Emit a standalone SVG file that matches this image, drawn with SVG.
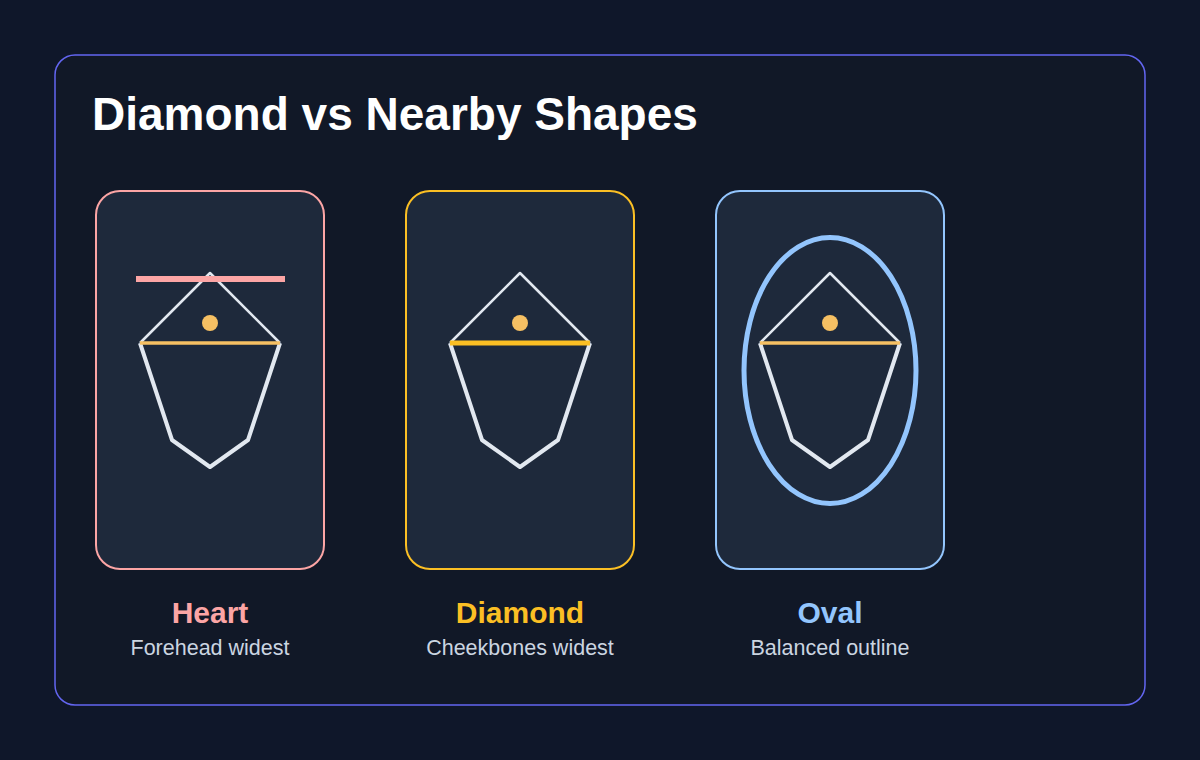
<svg xmlns="http://www.w3.org/2000/svg" width="1200" height="760" viewBox="0 0 1200 760">
<style>
.card{fill:#1e293b;stroke-width:2}
.up{fill:none;stroke:#e2e8f0;stroke-width:2.5;stroke-linejoin:round}
.low{fill:none;stroke:#e2e8f0;stroke-width:4;stroke-linejoin:round}
.cheek{stroke:#f6c063;stroke-width:3.5}
.dot{fill:#f6c063}
.lbl{font-family:"Liberation Sans",Arial,sans-serif;font-weight:bold;font-size:30px;text-anchor:middle}
.sub{font-family:"Liberation Sans",Arial,sans-serif;font-size:21.5px;fill:#cbd5e1;text-anchor:middle}
</style>
<defs>
<g id="face">
<polyline class="up" points="-70,70 0,0 70,70"/>
<polyline class="low" points="-70,70 -38,167 0,194 38,167 70,70"/>
<circle class="dot" cx="0" cy="50" r="8"/>
</g>
</defs>
<rect width="1200" height="760" fill="#0f172a"/>
<rect x="55" y="55" width="1090" height="650" rx="20" fill="#111827" stroke="#6366f1" stroke-width="1.5"/>
<text x="92" y="130" font-family="Liberation Sans,Arial,sans-serif" font-weight="bold" font-size="46" fill="#ffffff">Diamond vs Nearby Shapes</text>
<g id="heart">
<rect class="card" x="96" y="191" width="228" height="378" rx="24" stroke="#fca5a5"/>
<use href="#face" x="210" y="273"/>
<line class="cheek" x1="140" y1="343" x2="280" y2="343"/>
<line x1="136" y1="279" x2="285" y2="279" stroke="#fca5a5" stroke-width="6"/>
<text class="lbl" x="210" y="623" fill="#fca5a5">Heart</text>
<text class="sub" x="210" y="655">Forehead widest</text>
</g>
<g id="diamond">
<rect class="card" x="406" y="191" width="228" height="378" rx="24" stroke="#fbbf24"/>
<use href="#face" x="520" y="273"/>
<line x1="450" y1="343" x2="590" y2="343" stroke="#fbbf24" stroke-width="5"/>
<text class="lbl" x="520" y="623" fill="#fbbf24">Diamond</text>
<text class="sub" x="520" y="655">Cheekbones widest</text>
</g>
<g id="oval">
<rect class="card" x="716" y="191" width="228" height="378" rx="24" stroke="#93c5fd"/>
<ellipse cx="830" cy="370.5" rx="86" ry="133" fill="none" stroke="#93c5fd" stroke-width="5"/>
<use href="#face" x="830" y="273"/>
<line class="cheek" x1="760" y1="343" x2="900" y2="343"/>
<text class="lbl" x="830" y="623" fill="#93c5fd">Oval</text>
<text class="sub" x="830" y="655">Balanced outline</text>
</g>
<g id="connectors"/>
</svg>
